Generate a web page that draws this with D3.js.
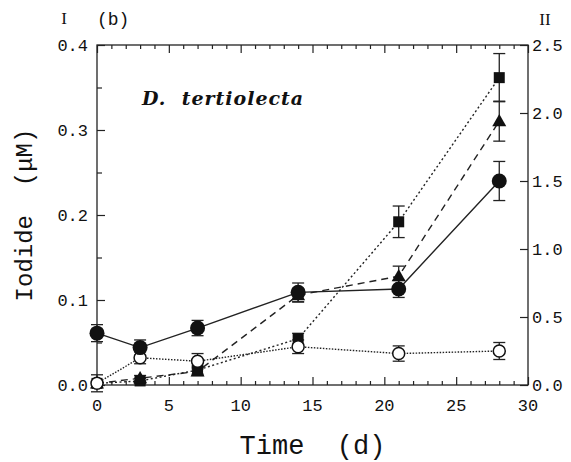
<!DOCTYPE html>
<html>
<head>
<meta charset="utf-8">
<script src="https://cdn.jsdelivr.net/npm/d3@7"></script>
<style>
  body { margin: 0; background: #fff; }
  text { fill: #111; }
</style>
</head>
<body>
<svg width="571" height="462"></svg>
<script>
// sampling days
var days = [0, 3, 7, 14, 21, 28];

// filled circles, left axis (I), solid line
var iodideFilled = [0.061, 0.044, 0.067, 0.109, 0.113, 0.240];
var iodideFilledErr = [0.010, 0.009, 0.009, 0.011, 0.010, 0.023];

// open circles, left axis (I), dotted line
var iodideOpen = [0.002, 0.032, 0.028, 0.045, 0.037, 0.040];
var iodideOpenErr = [0.010, 0.007, 0.009, 0.008, 0.009, 0.010];

// filled squares, right axis (II), dotted line
var squareVals = [0.012, 0.03, 0.11, 0.34, 1.20, 2.26];
var squareErr = [0.02, 0.02, 0.03, 0.04, 0.116, 0.177];

// filled triangles, right axis (II), dashed line
var triangleVals = [0.012, 0.05, 0.10, 0.66, 0.80, 1.94];
var triangleErr = [0.02, 0.02, 0.03, 0.05, 0.074, 0.147];

var xTicks = [0, 5, 10, 15, 20, 25, 30];
var leftTicks = [0.0, 0.1, 0.2, 0.3, 0.4];
var rightTicks = [0.0, 0.5, 1.0, 1.5, 2.0, 2.5];

var margin = {left: 97, right: 43, top: 45, bottom: 77};
var width = 571, height = 462;
var mono = "'Liberation Mono', 'Courier New', monospace";

var svg = d3.select("svg");

var x = d3.scaleLinear().domain([0, 30]).range([margin.left, width - margin.right]);
var yL = d3.scaleLinear().domain([0, 0.4]).range([height - margin.bottom, margin.top]);
var yR = d3.scaleLinear().domain([0, 2.5]).range([height - margin.bottom, margin.top]);

// frame
svg.append("rect")
    .attr("x", x(0)).attr("y", yL(0.4))
    .attr("width", x(30) - x(0)).attr("height", yL(0) - yL(0.4))
    .attr("fill", "none").attr("stroke", "#222").attr("stroke-width", 1.3);

// ticks, all pointing inward
function ticks(g, axis){
  g.call(axis.tickFormat(""))
    .call(s => s.select(".domain").remove())
    .selectAll(".tick line").attr("stroke", "#222").attr("stroke-width", 1.2);
}

var xMinor = d3.range(0, 31, 1).filter(d => d % 5 !== 0);
var leftMinor = [0.05, 0.15, 0.25, 0.35];

var gx = svg.append("g").attr("transform", "translate(0," + yL(0) + ")");
ticks(gx.append("g"), d3.axisTop(x).tickValues(xTicks).tickSize(8));
ticks(gx.append("g"), d3.axisTop(x).tickValues(xMinor).tickSize(4));

var gxTop = svg.append("g").attr("transform", "translate(0," + yL(0.4) + ")");
ticks(gxTop.append("g"), d3.axisBottom(x).tickValues(xTicks).tickSize(8));
ticks(gxTop.append("g"), d3.axisBottom(x).tickValues(xMinor).tickSize(4));

var gl = svg.append("g").attr("transform", "translate(" + x(0) + ",0)");
ticks(gl.append("g"), d3.axisRight(yL).tickValues(leftTicks).tickSize(8));
ticks(gl.append("g"), d3.axisRight(yL).tickValues(leftMinor).tickSize(5));

var gr = svg.append("g").attr("transform", "translate(" + x(30) + ",0)");
ticks(gr.append("g"), d3.axisLeft(yR).tickValues(rightTicks).tickSize(8));

// tick labels
svg.append("g").selectAll("text").data(xTicks).join("text")
    .attr("x", d => x(d)).attr("y", yL(0) + 26)
    .attr("text-anchor", "middle")
    .style("font-family", mono).style("font-size", "17px")
    .text(d => d);

svg.append("g").selectAll("text").data(leftTicks).join("text")
    .attr("x", x(0) - 9).attr("y", d => yL(d) + 6)
    .attr("text-anchor", "end")
    .style("font-family", mono).style("font-size", "17px")
    .text(d => d.toFixed(1));

svg.append("g").selectAll("text").data(rightTicks).join("text")
    .attr("x", x(30) + 4).attr("y", d => yR(d) + 6)
    .attr("text-anchor", "start")
    .style("font-family", mono).style("font-size", "17px")
    .text(d => d.toFixed(1));

// axis titles
svg.append("text")
    .attr("x", x(15)).attr("y", 454)
    .attr("text-anchor", "middle")
    .style("font-family", mono).style("font-size", "27px")
    .attr("xml:space", "preserve")
    .text("Time  (d)");

svg.append("text")
    .attr("transform", "translate(32," + yL(0.2) + ") rotate(-90)")
    .attr("text-anchor", "middle")
    .style("font-family", mono).style("font-size", "24px")
    .attr("xml:space", "preserve")
    .text("Iodide  (\u03bcM)");

svg.append("text").attr("x", 64).attr("y", 24)
    .attr("text-anchor", "middle")
    .style("font-family", "'Liberation Serif', serif").style("font-size", "17px")
    .text("I");
svg.append("text").attr("x", 97).attr("y", 25)
    .style("font-family", mono).style("font-size", "18px")
    .text("(b)");
svg.append("text").attr("x", 545).attr("y", 25)
    .attr("text-anchor", "middle")
    .style("font-family", "'Liberation Serif', serif").style("font-size", "17px")
    .text("II");

svg.append("text").attr("x", 142).attr("y", 105)
    .style("font-family", "'DejaVu Serif', serif")
    .style("font-size", "19px").style("font-style", "italic").style("font-weight", "bold")
    .style("letter-spacing", "1px")
    .attr("xml:space", "preserve")
    .text("D.  tertiolecta");

// series
var series = [
  {vals: squareVals, err: squareErr, y: yR, dash: "2,2.5", shape: "square"},
  {vals: triangleVals, err: triangleErr, y: yR, dash: "7,5", shape: "triangle"},
  {vals: iodideOpen, err: iodideOpenErr, y: yL, dash: "1.5,1.5", shape: "open"},
  {vals: iodideFilled, err: iodideFilledErr, y: yL, dash: null, shape: "circle"}
];

var plot = svg.append("g");

series.forEach(function(s){
  var pts = days.map((d, i) => ({t: d, v: s.vals[i], e: s.err[i]}));
  var line = d3.line().x(d => x(d.t)).y(d => s.y(d.v));
  plot.append("path")
      .datum(pts)
      .attr("d", line)
      .attr("fill", "none")
      .attr("stroke", "#222")
      .attr("stroke-width", 1.4)
      .attr("stroke-dasharray", s.dash);
  s.pts = pts;
});

series.forEach(function(s){
  var eb = plot.append("g").selectAll("g").data(s.pts).join("g");
  eb.append("line")
      .attr("x1", d => x(d.t)).attr("x2", d => x(d.t))
      .attr("y1", d => s.y(d.v - d.e)).attr("y2", d => s.y(d.v + d.e))
      .attr("stroke", "#222").attr("stroke-width", 1.3);
  [-1, 1].forEach(function(sign){
    eb.append("line")
        .attr("x1", d => x(d.t) - 6).attr("x2", d => x(d.t) + 6)
        .attr("y1", d => s.y(d.v + sign * d.e)).attr("y2", d => s.y(d.v + sign * d.e))
        .attr("stroke", "#222").attr("stroke-width", 1.3);
  });
});

series.forEach(function(s){
  var g = plot.append("g");
  if (s.shape === "square") {
    g.selectAll("rect").data(s.pts).join("rect")
        .attr("x", d => x(d.t) - 5.5).attr("y", d => s.y(d.v) - 5.5)
        .attr("width", 11).attr("height", 11)
        .attr("fill", "#111");
  } else if (s.shape === "triangle") {
    var tri = d3.symbol().type(d3.symbolTriangle).size(85);
    g.selectAll("path").data(s.pts).join("path")
        .attr("transform", d => "translate(" + x(d.t) + "," + (s.y(d.v) + 1) + ")")
        .attr("d", tri)
        .attr("fill", "#111");
  } else if (s.shape === "open") {
    g.selectAll("circle").data(s.pts).join("circle")
        .attr("cx", d => x(d.t)).attr("cy", d => s.y(d.v)).attr("r", 6)
        .attr("fill", "#fff").attr("stroke", "#111").attr("stroke-width", 1.5);
  } else {
    g.selectAll("circle").data(s.pts).join("circle")
        .attr("cx", d => x(d.t)).attr("cy", d => s.y(d.v)).attr("r", 7.5)
        .attr("fill", "#111");
  }
});
</script>
</body>
</html>
